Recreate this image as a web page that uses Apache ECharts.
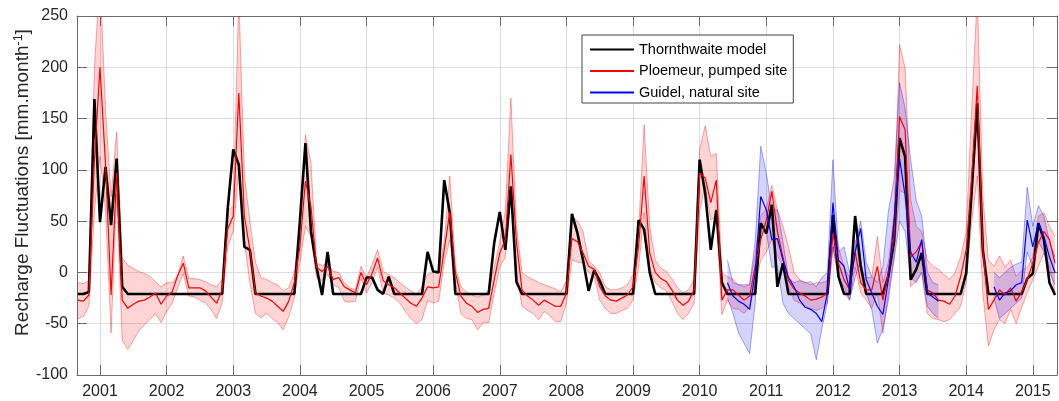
<!DOCTYPE html>
<html>
<head>
<meta charset="utf-8">
<script src="https://cdn.jsdelivr.net/npm/echarts@6/dist/echarts.min.js"></script>
<style>
  html, body { margin: 0; padding: 0; background: #ffffff; }
  #chart { width: 1059px; height: 401px; }
</style>
</head>
<body>
<div id="chart"></div>
<script>
// Monthly recharge fluctuations, September 2000 to May 2015 (one value per month).
const FIRST_YEAR = 2000;
const FIRST_MONTH = 8; // September, zero-based

const yearTicks = [2001, 2002, 2003, 2004, 2005, 2006, 2007, 2008, 2009, 2010, 2011, 2012, 2013, 2014, 2015];
const yTicks = [-100, -50, 0, 50, 100, 150, 200, 250];

const seriesNames = ['Thornthwaite model', 'Ploemeur, pumped site', 'Guidel, natural site'];

// Thornthwaite model
const thornthwaite = [
  -21, -21, -19, 169,                                        // 2000 Sep-Dec
  49, 103, 46, 111, -14, -21, -21, -21, -21, -21, -21, -21,  // 2001
  -21, -21, -21, -21, -21, -21, -21, -21, -21, -21, -21, 62, // 2002
  120, 105, 25, 22, -21, -21, -21, -21, -21, -21, -21, -21,  // 2003
  50, 126, 40, 5, -22, 20, -21, -21, -21, -21, -21, -21,     // 2004
  -5, -5, -17, -21, -4, -21, -21, -21, -21, -21, -21, 20,    // 2005
  1, 0, 90, 58, -21, -21, -21, -21, -21, -21, -21, 29,       // 2006
  59, 22, 84, -9, -21, -21, -21, -21, -21, -21, -21, -21,    // 2007
  -21, 57, 38, 12, -18, 2, -8, -21, -21, -21, -21, -21,      // 2008
  -21, 51, 42, 0, -21, -21, -21, -21, -21, -21, -21, -21,    // 2009
  110, 77, 22, 61, -10, -21, -21, -21, -21, -21, -21, 48,    // 2010
  38, 66, -14, 9, -21, -21, -21, -21, -21, -21, -21, -21,    // 2011
  56, -4, -21, -21, 55, 6, -21, -21, -21, -21, -3, 30,       // 2012
  131, 113, -7, 3, 19, -21, -21, -21, -21, -21, -21, -21,    // 2013
  -1, 80, 165, 22, -21, -21, -21, -21, -21, -21, -21, -6,    // 2014
  -1, 48, 32, -10, -22                                       // 2015 Jan-May
];

// Ploemeur (pumped site): mean and envelope
const ploemeurMean = [
  -27, -28, -22, 110,
  200, 105, -22, 97, -27, -35, -31, -28, -27, -24, -20, -31,
  -23, -19, -3, 9, -15, -15, -15, -18, -24, -30, -17, 42,
  55, 175, 55, 22, -20, -23, -25, -28, -33, -38, -28, -10,
  25, 89, 64, 5, 1, 6, -7, -5, -14, -17, -20, 0,
  -12, -1, 14, -8, -12, -15, -20, -25, -30, -33, -25, -14,
  -15, -14, 22, 59, 0, -23, -30, -33, -39, -36, -35, -7,
  19, 32, 115, 30, -17, -23, -27, -32, -27, -30, -33, -33,
  -20, 33, 30, 19, 6, 3, -14, -23, -27, -28, -25, -22,
  -14, 25, 94, 19, 0, -6, -9, -17, -27, -32, -28, -17,
  97, 92, 68, 90, -27, -17, -17, -22, -27, -23, 6, 32,
  51, 79, 40, 15, -8, -16, -20, -23, -27, -26, -24, -20,
  38, 9, -7, -17, 20, -10, -17, -17, 6, -27, 0, 35,
  152, 139, 15, 20, 30, -17, -20, -27, -28, -31, -23, -4,
  22, 94, 182, 22, -36, -27, -17, -22, -15, -28, -19, -7,
  9, 29, 40, 32, 9
];
const ploemeurHigh = [
  -10, -11, -8, 200,
  290, 158, 74, 137, 14, 7, 4, 1, -1, -4, -9, -14,
  -10, -10, -3, 16, -6, -6, -7, -9, -12, -14, -7, 60,
  65, 270, 95, 50, 10, -5, -7, -10, -12, -18, -15, 0,
  40, 134, 107, 9, 7, 8, 1, 0, -10, -15, -17, 6,
  -5, 8, 22, 1, -2, -5, -10, -14, -18, -21, -14, -2,
  0, 1, 30, 94, 5, -14, -19, -22, -24, -22, -18, 5,
  30, 60, 170, 45, 0, -4, -7, -10, -12, -14, -16, -19,
  -8, 55, 50, 40, 12, 6, 0, -14, -17, -17, -15, -12,
  -2, 40, 144, 45, 12, 4, 1, -6, -15, -20, -17, -7,
  120, 143, 113, 116, 0, -4, -7, -12, -14, -12, 18, 55,
  62, 85, 61, 45, 25, 0, -7, -10, -12, -10, -10, -8,
  50, 25, 5, -5, 32, 5, -5, -5, 35, -10, 10, 55,
  222, 199, 71, 45, 40, 12, 6, 3, -2, -7, 0, 15,
  40, 160, 270, 74, 12, 6, 16, 5, 12, -4, 2, 5,
  15, 55, 58, 45, 35
];
const ploemeurLow = [
  -45, -43, -33, 60,
  113, 61, -59, 77, -66, -75, -66, -57, -51, -46, -40, -49,
  -38, -30, -15, -1, -23, -24, -27, -30, -36, -45, -30, 25,
  40, 100, 30, -10, -40, -44, -40, -45, -49, -56, -43, -25,
  10, 45, 35, -5, -8, -2, -12, -15, -28, -29, -28, -5,
  -20, -10, 5, -20, -22, -25, -30, -38, -45, -50, -46, -27,
  -30, -28, 10, 32, -10, -40, -45, -46, -56, -49, -49, -20,
  5, 15, 80, 0, -33, -37, -40, -46, -38, -42, -48, -48,
  -30, 12, 10, 9, 0, -4, -27, -35, -40, -40, -37, -35,
  -27, 5, 58, 5, -10, -15, -18, -28, -40, -46, -40, -30,
  60, 84, 51, 55, -41, -27, -35, -36, -40, -33, -12, 12,
  20, 32, 16, 6, -14, -27, -30, -33, -35, -37, -35, -30,
  25, -5, -20, -27, 5, -20, -27, -35, -20, -59, -20, 15,
  80, 77, -14, -8, 0, -40, -45, -46, -48, -46, -40, -33,
  -10, 50, 94, -20, -72, -56, -46, -50, -36, -50, -34, -20,
  -7, 6, 19, 6, -20
];

// Guidel (natural site): mean and envelope, recorded from mid-2010
const _ = null;
const guidelMean = [
  _, _, _, _,
  _, _, _, _, _, _, _, _, _, _, _, _,
  _, _, _, _, _, _, _, _, _, _, _, _,
  _, _, _, _, _, _, _, _, _, _, _, _,
  _, _, _, _, _, _, _, _, _, _, _, _,
  _, _, _, _, _, _, _, _, _, _, _, _,
  _, _, _, _, _, _, _, _, _, _, _, _,
  _, _, _, _, _, _, _, _, _, _, _, _,
  _, _, _, _, _, _, _, _, _, _, _, _,
  _, _, _, _, _, _, _, _, _, _, _, _,
  _, _, _, _, _, -10, -23, -28, -31, -36, 0, 74,
  61, 32, 33, 12, -5, -14, -27, -34, -36, -40, -48, -20,
  68, 12, 6, -17, 20, 43, -7, -20, -33, -41, -7, 51,
  111, 75, 20, 10, 32, -20, -24, -28, _, _, _, _,
  _, _, _, _, _, -14, -27, -20, -18, -12, -10, 51,
  25, 48, 35, 15, 0
];
const guidelHigh = [
  _, _, _, _,
  _, _, _, _, _, _, _, _, _, _, _, _,
  _, _, _, _, _, _, _, _, _, _, _, _,
  _, _, _, _, _, _, _, _, _, _, _, _,
  _, _, _, _, _, _, _, _, _, _, _, _,
  _, _, _, _, _, _, _, _, _, _, _, _,
  _, _, _, _, _, _, _, _, _, _, _, _,
  _, _, _, _, _, _, _, _, _, _, _, _,
  _, _, _, _, _, _, _, _, _, _, _, _,
  _, _, _, _, _, _, _, _, _, _, _, _,
  _, _, _, _, _, 12, -10, -12, -12, -12, 30, 123,
  97, 61, 61, 30, -5, -10, -8, -10, -9, -14, -5, 0,
  110, 20, 25, 0, 25, 50, 10, -4, -10, 6, 60, 90,
  185, 160, 110, 70, 55, 0, -10, -12, _, _, _, _,
  _, _, _, _, _, 0, -5, 0, 5, 8, 10, 83,
  45, 65, 55, 30, 15
];
const guidelLow = [
  _, _, _, _,
  _, _, _, _, _, _, _, _, _, _, _, _,
  _, _, _, _, _, _, _, _, _, _, _, _,
  _, _, _, _, _, _, _, _, _, _, _, _,
  _, _, _, _, _, _, _, _, _, _, _, _,
  _, _, _, _, _, _, _, _, _, _, _, _,
  _, _, _, _, _, _, _, _, _, _, _, _,
  _, _, _, _, _, _, _, _, _, _, _, _,
  _, _, _, _, _, _, _, _, _, _, _, _,
  _, _, _, _, _, _, _, _, _, _, _, _,
  _, _, _, _, _, -25, -40, -59, -69, -79, -30, 45,
  40, 5, 6, -30, -40, -45, -50, -55, -60, -85, -55, -30,
  25, -5, -14, -27, -5, 12, -20, -36, -69, -55, -27, 12,
  50, 40, -5, -10, 0, -33, -40, -45, _, _, _, _,
  _, _, _, _, _, -25, -45, -40, -35, -30, -25, 20,
  5, 30, 20, 0, -12
];

// Decimal-year position of every monthly sample
const monthTimes = thornthwaite.map((v, i) => FIRST_YEAR + (FIRST_MONTH + i) / 12);
const X_MIN = 2000.655;
const X_MAX = 2015.363;

const FONT = '"Liberation Sans", Arial, Helvetica, sans-serif';
const TEXT = '#262626';
const FRAME = '#6b6b6b';
const GRID = '#dedede';

function pairs(values) {
  return monthTimes.map((t, i) => [t, values[i]]);
}

// Shaded envelope between two bounds, drawn in the cartesian coordinates of the grid
function envelope(low, high, fill, edge) {
  return function (params, api) {
    const cs = params.coordSys;
    const children = [];
    let run = [];
    const flush = function () {
      if (run.length > 1) {
        const top = run.map(i => api.coord([monthTimes[i], high[i]]));
        const bottom = run.map(i => api.coord([monthTimes[i], low[i]]));
        children.push({
          type: 'polygon',
          shape: { points: top.concat(bottom.slice().reverse()) },
          style: { fill: fill, stroke: null }
        });
        children.push({
          type: 'polyline',
          shape: { points: top },
          style: { fill: null, stroke: edge, lineWidth: 1 }
        });
        children.push({
          type: 'polyline',
          shape: { points: bottom },
          style: { fill: null, stroke: edge, lineWidth: 1 }
        });
      }
      run = [];
    };
    for (let i = 0; i < monthTimes.length; i++) {
      if (low[i] == null || high[i] == null) flush();
      else run.push(i);
    }
    flush();
    return {
      type: 'group',
      children: children,
      clipPath: { type: 'rect', shape: { x: cs.x, y: cs.y, width: cs.width, height: cs.height } }
    };
  };
}

const chart = echarts.init(document.getElementById('chart'), null, { renderer: 'canvas' });

const frameAxisCommon = {
  type: 'value',
  axisLine: { show: true, onZero: false, lineStyle: { color: FRAME, width: 1 } },
  axisTick: { show: true, inside: true, length: 10, lineStyle: { color: FRAME, width: 1 } }
};

chart.setOption({
  animation: false,
  backgroundColor: '#ffffff',
  textStyle: { fontFamily: FONT, color: TEXT },
  grid: { left: 77, right: 2, top: 16, bottom: 26, outerBoundsMode: 'none', containLabel: false },
  legend: {
    data: seriesNames,
    orient: 'vertical',
    left: 582,
    top: 35,
    padding: [7, 6, 3, 7],
    itemWidth: 44,
    itemHeight: 14,
    itemGap: 6.5,
    itemTextGap: 4,
    backgroundColor: '#ffffff',
    borderColor: '#444444',
    borderWidth: 1,
    borderRadius: 0,
    selectedMode: false,
    // plain line keys, no marker on top of them
    itemStyle: { opacity: 0 },
    textStyle: { fontFamily: FONT, fontSize: 14.5, color: '#000000' }
  },
  xAxis: [
    Object.assign({}, frameAxisCommon, {
      position: 'bottom',
      min: X_MIN,
      max: X_MAX,
      axisTick: Object.assign({}, frameAxisCommon.axisTick, { customValues: yearTicks }),
      axisLabel: {
        customValues: yearTicks,
        formatter: v => String(Math.round(v)),
        fontFamily: FONT, fontSize: 16, color: TEXT, margin: 9
      },
      splitLine: { show: true, lineStyle: { color: GRID, width: 1 } }
    }),
    Object.assign({}, frameAxisCommon, {
      position: 'top',
      min: X_MIN,
      max: X_MAX,
      axisTick: Object.assign({}, frameAxisCommon.axisTick, { customValues: yearTicks }),
      axisLabel: { show: false },
      splitLine: { show: false }
    })
  ],
  yAxis: [
    Object.assign({}, frameAxisCommon, {
      position: 'left',
      min: yTicks[0],
      max: yTicks[yTicks.length - 1],
      interval: 50,
      axisLabel: { fontFamily: FONT, fontSize: 16, color: TEXT, margin: 9 },
      splitLine: { show: true, lineStyle: { color: GRID, width: 1 } },
      name: '{a|Recharge Fluctuations [mm.month}{b|-1}{a|]}',
      nameLocation: 'middle',
      nameGap: 43,
      nameMoveOverlap: false,
      nameTextStyle: {
        color: TEXT,
        padding: [0, 0, 0, 26],
        rich: {
          a: { fontFamily: FONT, fontSize: 19, color: TEXT, lineHeight: 22 },
          b: { fontFamily: FONT, fontSize: 12.5, color: TEXT, verticalAlign: 'top', lineHeight: 13 }
        }
      }
    }),
    Object.assign({}, frameAxisCommon, {
      position: 'right',
      min: yTicks[0],
      max: yTicks[yTicks.length - 1],
      interval: 50,
      axisLabel: { show: false },
      splitLine: { show: false }
    })
  ],
  series: [
    {
      type: 'custom',
      name: 'Ploemeur envelope',
      renderItem: envelope(ploemeurLow, ploemeurHigh, 'rgba(255,0,0,0.17)', 'rgba(255,0,0,0.35)'),
      data: [[2005, 0]],
      silent: true,
      z: 1
    },
    {
      type: 'custom',
      name: 'Guidel envelope',
      renderItem: envelope(guidelLow, guidelHigh, 'rgba(0,0,255,0.17)', 'rgba(0,0,255,0.35)'),
      data: [[2012, 0]],
      silent: true,
      z: 1
    },
    {
      type: 'line',
      name: seriesNames[0],
      data: pairs(thornthwaite),
      symbol: 'none',
      lineStyle: { color: '#000000', width: 2.6 },
      itemStyle: { color: '#000000' },
      z: 3
    },
    {
      type: 'line',
      name: seriesNames[1],
      data: pairs(ploemeurMean),
      symbol: 'none',
      lineStyle: { color: '#ff0000', width: 1.2 },
      itemStyle: { color: '#ff0000' },
      z: 4
    },
    {
      type: 'line',
      name: seriesNames[2],
      data: pairs(guidelMean),
      symbol: 'none',
      connectNulls: false,
      lineStyle: { color: '#0000ff', width: 1.2 },
      itemStyle: { color: '#0000ff' },
      z: 5
    }
  ]
});
</script>
</body>
</html>
